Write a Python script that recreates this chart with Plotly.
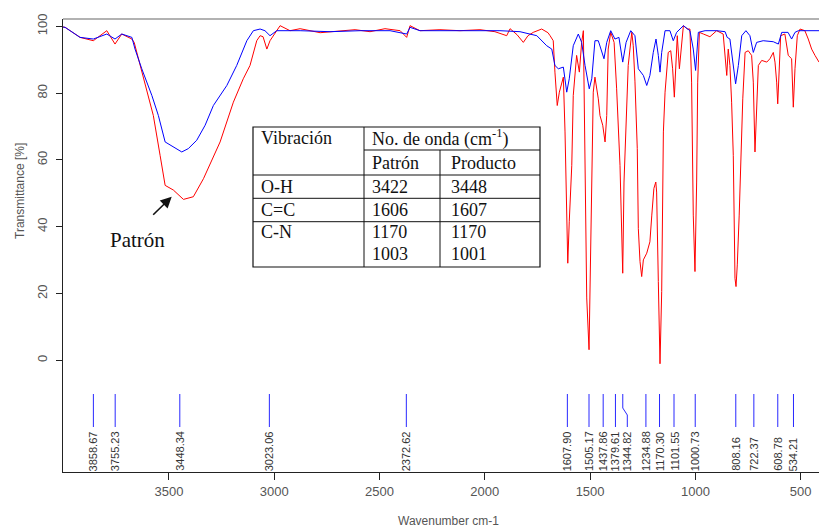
import plotly.graph_objects as go

# ---------------- data ----------------
patron_wn = [4003, 3993, 3922, 3859, 3795, 3756, 3724, 3676, 3665, 3645, 3605, 3574, 3542, 3518, 3479, 3431,
             3384, 3336, 3257, 3194, 3147, 3115, 3083, 3067, 3053, 3035, 3020, 2972, 2925, 2877, 2782, 2687,
             2616, 2545, 2474, 2402, 2371, 2355, 2308, 2213, 2118, 2023, 1952, 1896, 1880, 1847, 1817, 1795,
             1770, 1730, 1700, 1690, 1675, 1667, 1656, 1646, 1635, 1627, 1619, 1611, 1606, 1599, 1587, 1580,
             1564, 1551, 1540, 1532, 1524, 1516, 1505, 1497, 1492, 1485, 1477, 1461, 1453, 1440, 1429, 1421,
             1414, 1402, 1386, 1374, 1358, 1350, 1345, 1339, 1329, 1319, 1302, 1295, 1287, 1276, 1271, 1263,
             1255, 1247, 1231, 1216, 1207, 1197, 1188, 1184, 1176, 1168, 1160, 1152, 1144, 1129, 1117, 1108,
             1100, 1092, 1086, 1076, 1070, 1057, 1038, 1026, 1018, 1010, 1002, 994, 989, 981, 962, 931,
             899, 883, 868, 851, 844, 836, 828, 820, 812, 807, 801, 792, 785, 775, 764, 749,
             733, 725, 717, 709, 701, 685, 661, 646, 630, 622, 614, 609, 602, 595, 575, 559,
             543, 535, 527, 516, 503, 480, 464, 448, 432, 413]
patron_t = [99.8, 99.7, 96.7, 95.7, 98.7, 94.7, 97.7, 96.2, 95.2, 90.3, 81.3, 73.3, 61.4, 52.4, 51.0, 48.2,
            49.0, 54.4, 65.4, 77.3, 84.3, 88.3, 95.7, 97.2, 96.9, 93.2, 95.7, 100.2, 98.7, 99.3, 98.1, 98.7,
            99.0, 98.4, 99.3, 98.7, 96.7, 100.2, 98.7, 99.0, 98.7, 99.0, 98.4, 97.2, 99.3, 97.5, 95.2, 97.2,
            98.2, 99.2, 98.1, 97.2, 95.7, 86.3, 76.3, 80.3, 83.3, 84.8, 68.4, 43.5, 29.1, 41.5, 58.4, 79.3,
            91.3, 86.3, 95.2, 98.7, 63.5, 18.7, 3.2, 33.6, 63.5, 80.3, 84.8, 78.3, 73.3, 70.4, 65.4, 73.3,
            93.2, 98.2, 95.2, 81.3, 58.4, 38.5, 26.1, 53.4, 73.3, 88.3, 98.2, 94.2, 83.6, 63.4, 39.5, 29.6,
            25.1, 30.1, 32.1, 35.5, 43.5, 51.5, 53.4, 50.4, 23.6, -1.0, 20.6, 68.4, 80.3, 92.2, 92.7, 87.3,
            78.8, 91.3, 97.2, 87.3, 92.2, 100.2, 99.2, 99.2, 83.3, 43.5, 26.6, 53.4, 83.3, 98.2, 97.7, 96.9,
            98.7, 98.2, 97.7, 85.3, 93.2, 88.3, 77.3, 61.4, 24.6, 22.1, 28.6, 43.5, 58.4, 78.3, 92.2, 92.7,
            91.3, 83.3, 62.4, 73.3, 88.3, 89.8, 89.3, 90.3, 92.2, 89.3, 83.3, 76.8, 88.3, 97.2, 97.7, 91.3,
            90.3, 75.8, 87.3, 97.2, 99.2, 98.7, 96.2, 93.2, 91.3, 89.3]

producto_wn = [4003, 3993, 3922, 3859, 3795, 3756, 3724, 3676, 3661, 3629, 3581, 3550, 3518, 3479, 3439, 3408,
               3368, 3328, 3289, 3225, 3178, 3130, 3099, 3067, 3044, 3020, 2988, 2877, 2735, 2592, 2450, 2371,
               2355, 2308, 2118, 1928, 1833, 1753, 1706, 1682, 1667, 1651, 1627, 1611, 1599, 1580, 1556, 1540,
               1524, 1504, 1492, 1477, 1461, 1445, 1434, 1421, 1402, 1382, 1363, 1345, 1329, 1307, 1287, 1271,
               1247, 1231, 1216, 1200, 1187, 1176, 1168, 1160, 1144, 1121, 1105, 1089, 1057, 1026, 1010, 999,
               986, 954, 899, 859, 849, 836, 820, 809, 796, 780, 760, 741, 725, 709, 678, 630,
               606, 590, 560, 543, 527, 511, 413]
producto_t = [99.8, 99.7, 96.7, 96.2, 97.7, 96.2, 97.7, 96.7, 93.2, 87.3, 79.3, 73.3, 65.4, 63.9, 62.4, 63.4,
              65.9, 70.4, 76.3, 82.3, 88.3, 95.7, 98.7, 99.2, 98.7, 97.2, 98.7, 98.7, 98.4, 98.7, 98.7, 97.7,
              99.7, 98.7, 98.7, 98.7, 98.4, 97.2, 94.2, 93.2, 88.3, 87.3, 87.8, 80.3, 84.3, 94.2, 97.7, 95.2,
              88.3, 81.3, 84.3, 95.7, 95.7, 92.2, 90.3, 95.2, 98.7, 96.2, 96.7, 89.3, 95.2, 98.7, 97.2, 87.3,
              85.3, 82.3, 85.3, 92.2, 96.2, 91.3, 86.3, 92.2, 98.7, 98.7, 95.7, 98.2, 100.2, 98.7, 93.2, 86.8,
              98.2, 98.7, 98.7, 98.4, 96.7, 96.2, 88.3, 82.8, 88.3, 97.2, 98.7, 97.2, 92.2, 95.2, 95.7, 95.4,
              94.7, 98.2, 98.2, 96.2, 98.2, 98.7, 98.7]

peak_values = [3858.67, 3755.23, 3448.34, 3023.06, 2372.62, 1607.90, 1505.17, 1437.86, 1379.61,
               1344.82, 1234.88, 1170.30, 1101.55, 1000.73, 808.16, 722.37, 608.78, 534.21]
peak_labels = ["3858.67", "3755.23", "3448.34", "3023.06", "2372.62", "1607.90", "1505.17", "1437.86",
               "1379.61", "1344.82", "1234.88", "1170.30", "1101.55", "1000.73", "808.16", "722.37",
               "608.78", "534.21"]

table_rows = ["O-H", "C=C", "C-N", ""]
table_patron = ["3422", "1606", "1170", "1003"]
table_producto = ["3448", "1607", "1170", "1001"]

x_ticks = [3500, 3000, 2500, 2000, 1500, 1000, 500]
y_ticks = [0, 20, 40, 60, 80, 100]

# ---------------- layout geometry ----------------
W, H = 819, 530
ML, MR, MT, MB = 63, 0, 19, 58
XR = (4003, 413)
YR = (-33.4, 102.2)
PW, PH = W - ML - MR, H - MT - MB


def px2x(px):
    return XR[0] + (px - ML) / PW * (XR[1] - XR[0])


def py2y(py):
    return YR[1] - (py - MT) / PH * (YR[1] - YR[0])


fig = go.Figure()
fig.add_trace(go.Scatter(x=patron_wn, y=patron_t, mode="lines",
                         line=dict(color="#ff0000", width=1), name="Patrón", showlegend=False))
fig.add_trace(go.Scatter(x=producto_wn, y=producto_t, mode="lines",
                         line=dict(color="#0000ff", width=1), name="Producto", showlegend=False))

# peak marker lines
top_y, bot_y = py2y(394), py2y(427)
label_offset = {"1344.82": px2x(627.3) - 1344.82}
lx, ly = [], []
label_x = []
for v, lab in zip(peak_values, peak_labels):
    off = label_offset.get(lab, 0)
    if off:
        lx += [v, v, v + off, v + off, None]
        ly += [top_y, py2y(408), py2y(415), bot_y, None]
    else:
        lx += [v, v, None]
        ly += [top_y, bot_y, None]
    label_x.append(v + off)
fig.add_trace(go.Scatter(x=lx, y=ly, mode="lines", line=dict(color="#2828ff", width=1),
                         showlegend=False, hoverinfo="skip"))

annotations = []
for x, lab in zip(label_x, peak_labels):
    annotations.append(dict(x=x, y=0, xref="x", yref="paper", yshift=-1, text=lab, textangle=-90,
                            showarrow=False, xanchor="center", yanchor="bottom",
                            font=dict(family="Liberation Sans", size=11, color="#333333")))

# table
serif = "Liberation Serif"
tf = dict(family=serif, size=18, color="#111111")
tx0, tx1 = px2x(253), px2x(540)
c1, c2 = px2x(364), px2x(440)
ty0, ty1 = py2y(127), py2y(267)
shapes = [
    dict(type="rect", xref="x", yref="y", x0=tx0, x1=tx1, y0=ty0, y1=ty1,
         line=dict(color="#111111", width=1.2), fillcolor="white", layer="above"),
    dict(type="line", xref="x", yref="y", x0=c1, x1=c1, y0=ty0, y1=ty1, line=dict(color="#111111", width=1)),
    dict(type="line", xref="x", yref="y", x0=c2, x1=c2, y0=py2y(150), y1=ty1, line=dict(color="#111111", width=1)),
    dict(type="line", xref="x", yref="y", x0=c1, x1=tx1, y0=py2y(150), y1=py2y(150), line=dict(color="#111111", width=1)),
]
for py in (175, 198.3, 221.7):
    shapes.append(dict(type="line", xref="x", yref="y", x0=tx0, x1=tx1, y0=py2y(py), y1=py2y(py),
                       line=dict(color="#111111", width=1)))

# top gray frame line
shapes.append(dict(type="line", xref="paper", yref="paper", x0=0, x1=1, y0=1, y1=1,
                   line=dict(color="#999999", width=1.5)))


def tnote(px, py, text):
    annotations.append(dict(x=px2x(px), y=py2y(py), xref="x", yref="y", text=text, showarrow=False,
                            xanchor="left", yanchor="middle", font=tf))


tnote(259, 138, "Vibración")
tnote(370, 138, "No. de onda (cm<sup>-1</sup>)")
tnote(370, 163, "Patrón")
tnote(449, 163, "Producto")
row_py = [187, 210, 232, 254]
for py, r, p, q in zip(row_py, table_rows, table_patron, table_producto):
    if r:
        tnote(259, py, r)
    tnote(370, py, p)
    tnote(449, py, q)

# arrow + label
annotations.append(dict(x=px2x(171.7), y=py2y(196.7), xref="x", yref="y", text="", showarrow=True,
                        ax=-20, ay=19.5, arrowhead=2, arrowsize=1.4, arrowwidth=1.6, arrowcolor="#111111"))
annotations.append(dict(x=px2x(137), y=py2y(240), xref="x", yref="y", text="Patrón", showarrow=False,
                        xanchor="center", yanchor="middle", font=dict(family=serif, size=21, color="#111111")))

# axis titles
annotations.append(dict(x=px2x(448), y=-(521 - (H - MB)) / PH, xref="x", yref="paper",
                        text="Wavenumber cm-1", showarrow=False, xanchor="center", yanchor="middle",
                        font=dict(family="Liberation Sans", size=12, color="#555555")))
annotations.append(dict(x=-(ML - 20) / PW, y=py2y(191), xref="paper", yref="y", text="Transmittance [%]",
                        textangle=-90, showarrow=False, xanchor="center", yanchor="middle",
                        font=dict(family="Liberation Sans", size=12, color="#555555")))

fig.update_layout(
    width=W, height=H, margin=dict(l=ML, r=MR, t=MT, b=MB),
    paper_bgcolor="white", plot_bgcolor="white",
    shapes=shapes, annotations=annotations,
    xaxis=dict(range=list(XR), tickvals=x_ticks, ticktext=[str(v) for v in x_ticks],
               ticks="outside", ticklen=7, tickcolor="#222222", showline=True, linecolor="#222222",
               linewidth=1, showgrid=False, zeroline=False,
               tickfont=dict(family="Liberation Sans", size=13, color="#555555")),
    yaxis=dict(range=list(YR), tickvals=y_ticks, ticktext=[str(v) for v in y_ticks],
               ticks="outside", ticklen=6, tickcolor="#222222", showline=True, linecolor="#222222",
               linewidth=1, showgrid=False, zeroline=False, tickangle=-90, ticklabelstandoff=4,
               tickfont=dict(family="Liberation Sans", size=13, color="#555555")),
)

fig.write_html("out.html")
